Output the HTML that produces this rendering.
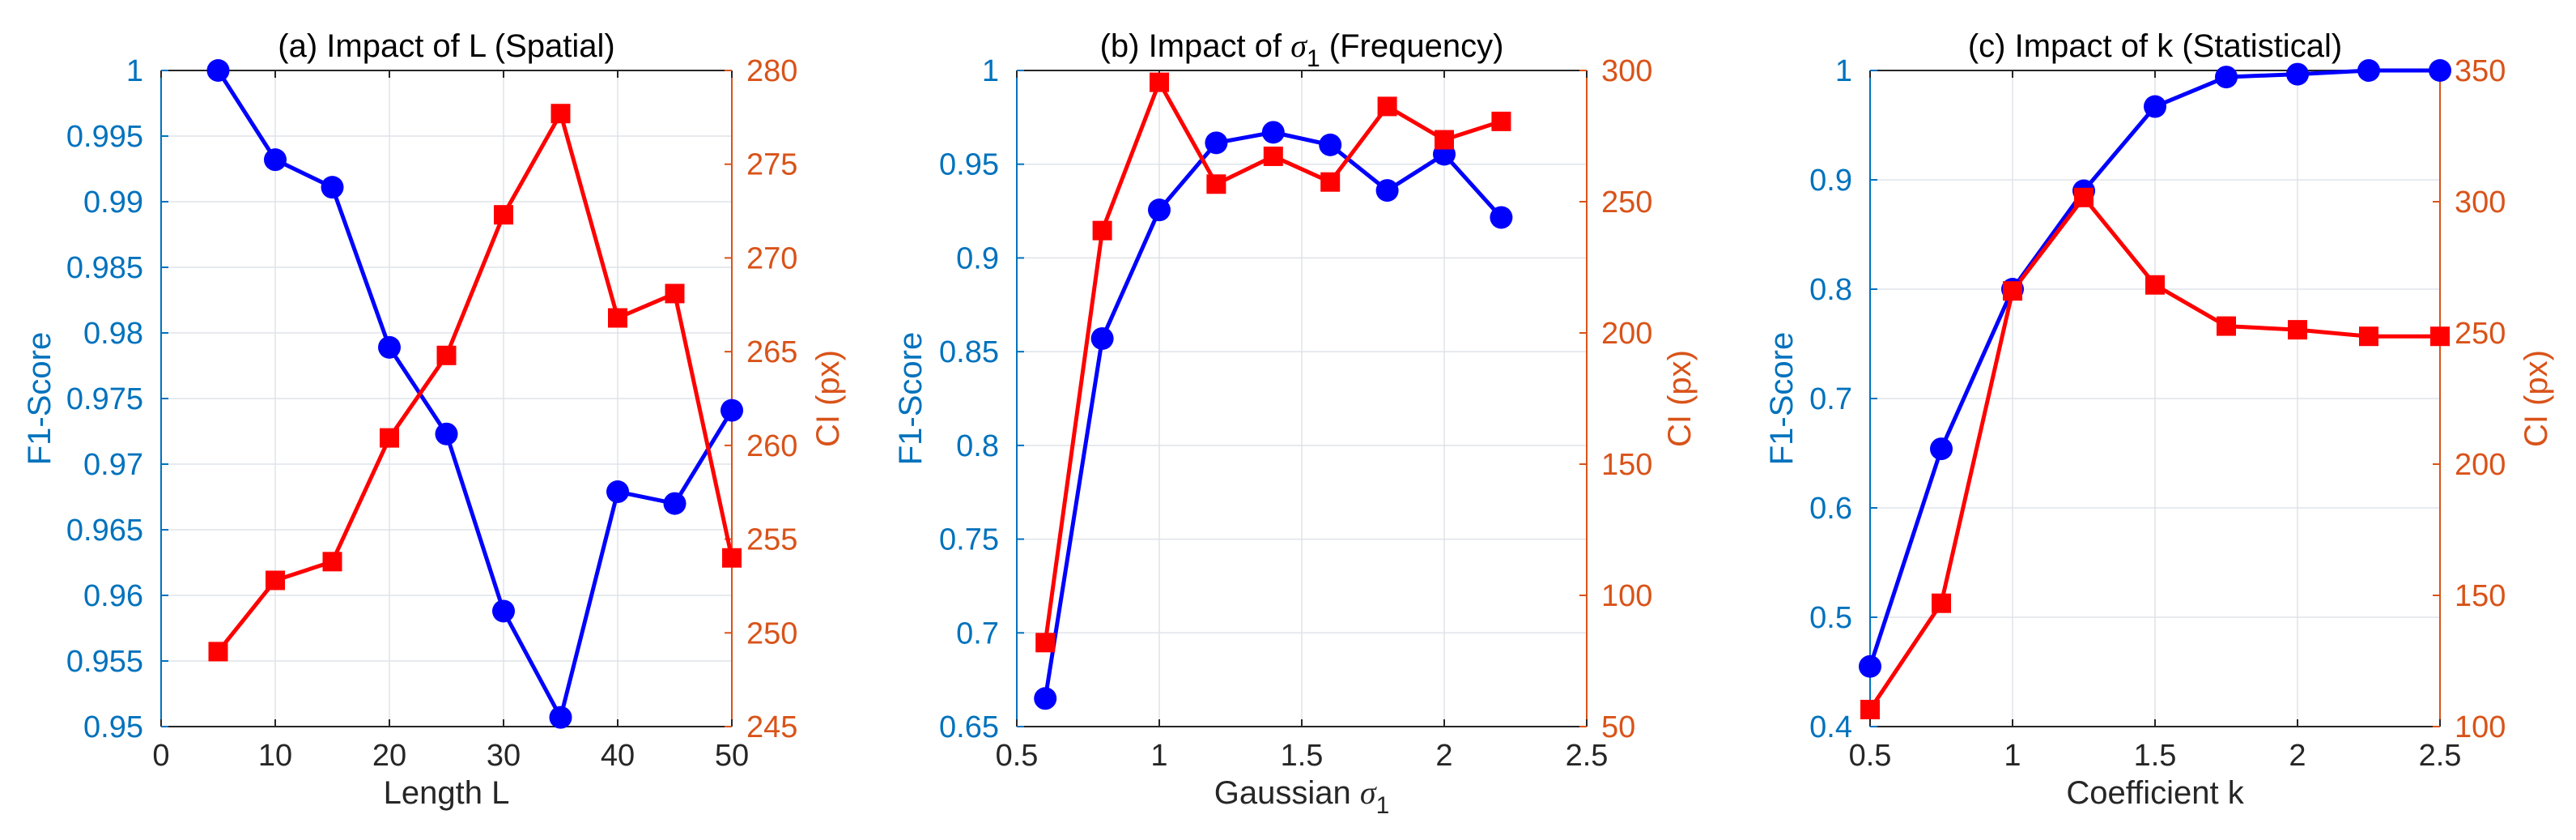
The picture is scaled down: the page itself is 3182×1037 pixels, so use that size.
<!DOCTYPE html>
<html><head><meta charset="utf-8"><style>
html,body{margin:0;padding:0;background:#fff}
svg{display:block}
text{font-family:"Liberation Sans",sans-serif}
</style></head><body>
<svg id="fig" width="3182" height="1037" viewBox="0 0 3182 1037" xmlns="http://www.w3.org/2000/svg"></svg>
<script>
// Panel (a)
const aX = [5,10,15,20,25,30,35,40,45,50];
const aF1 = [1,0.9932,0.9911,0.9789,0.9723,0.9588,0.9507,0.9679,0.9670,0.9741];
const aCI = [249,252.8,253.8,260.4,264.8,272.3,277.7,266.8,268.1,254];
const aXTicks = [0,10,20,30,40,50];
const aLTicks = [0.95,0.955,0.96,0.965,0.97,0.975,0.98,0.985,0.99,0.995,1];
const aLLabels = ["0.95","0.955","0.96","0.965","0.97","0.975","0.98","0.985","0.99","0.995","1"];
const aRTicks = [245,250,255,260,265,270,275,280];
// Panel (b)
const bX = [0.6,0.8,1.0,1.2,1.4,1.6,1.8,2.0,2.2];
const bF1 = [0.665,0.857,0.9256,0.9614,0.967,0.9603,0.936,0.9553,0.9216];
const bCI = [82,239,295.5,256.7,267.3,257.5,286.3,273.6,280.6];
const bXTicks = [0.5,1,1.5,2,2.5];
const bLTicks = [0.65,0.7,0.75,0.8,0.85,0.9,0.95,1];
const bLLabels = ["0.65","0.7","0.75","0.8","0.85","0.9","0.95","1"];
const bRTicks = [50,100,150,200,250,300];
// Panel (c)
const cX = [0.5,0.75,1.0,1.25,1.5,1.75,2.0,2.25,2.5];
const cF1 = [0.455,0.654,0.800,0.890,0.967,0.994,0.9966,1.0,1.0];
const cCI = [106.5,147,266,301.6,268.3,252.6,251.2,248.7,248.7];
const cXTicks = [0.5,1,1.5,2,2.5];
const cLTicks = [0.4,0.5,0.6,0.7,0.8,0.9,1];
const cLLabels = ["0.4","0.5","0.6","0.7","0.8","0.9","1"];
const cRTicks = [100,150,200,250,300,350];

const NS = "http://www.w3.org/2000/svg";
const svg = document.getElementById('fig');
const LBLUE = "#0072BD", RORG = "#D95319";
function mk(tag, attrs, parent){
  const e = document.createElementNS(NS, tag);
  for (const k in attrs) e.setAttribute(k, attrs[k]);
  (parent||svg).appendChild(e);
  return e;
}
function fmt(v){ return String(+v.toFixed(3)); }

function panel(o){
  const g = mk('g', {});
  
  
  const L=o.left, R=o.right, T=87, B=897;
  const sx = v => L + (v-o.xmin)/(o.xmax-o.xmin)*(R-L);
  const sl = v => B - (v-o.lmin)/(o.lmax-o.lmin)*(B-T);
  const sr = v => B - (v-o.rmin)/(o.rmax-o.rmin)*(B-T);
  // grid
  o.xt.forEach(v=>{ const x=sx(v); const l=mk('line',{x1:x,x2:x,y1:T,y2:B,stroke:"#dfe3e8","stroke-width":1.5},g);
      });
  o.lt.forEach(v=>{ const y=sl(v); const l=mk('line',{x1:L,x2:R,y1:y,y2:y,stroke:"#dfe3e8","stroke-width":1.5},g);
      });
  // axes
  const ax = mk('line',{x1:L,x2:R,y1:T,y2:T,stroke:"#262626","stroke-width":2},g);
   
  const bx = mk('line',{x1:L,x2:R,y1:B,y2:B,stroke:"#262626","stroke-width":2},g);
   
  const lx = mk('line',{x1:L,x2:L,y1:T,y2:B,stroke:LBLUE,"stroke-width":2},g);
   
  const rx = mk('line',{x1:R,x2:R,y1:T,y2:B,stroke:RORG,"stroke-width":2},g);
   
  // x ticks
  o.xt.forEach(v=>{ const x=sx(v);
    mk('line',{x1:x,x2:x,y1:B,y2:B-9,stroke:"#262626","stroke-width":2},g);
    mk('line',{x1:x,x2:x,y1:T,y2:T+9,stroke:"#262626","stroke-width":2},g);
    const t=mk('text',{x:x,y:945,"text-anchor":"middle","font-size":38,fill:"#262626"},g);
    t.textContent=fmt(v);
      });
  o.lt.forEach((v,i)=>{ const y=sl(v);
    mk('line',{x1:L,x2:L+9,y1:y,y2:y,stroke:LBLUE,"stroke-width":2},g);
    const t=mk('text',{x:L-22,y:y+13,"text-anchor":"end","font-size":38,fill:LBLUE},g);
    t.textContent=o.ll[i];
      });
  o.rt.forEach(v=>{ const y=sr(v);
    mk('line',{x1:R,x2:R-9,y1:y,y2:y,stroke:RORG,"stroke-width":2},g);
    const t=mk('text',{x:R+18,y:y+13,"text-anchor":"start","font-size":38,fill:RORG},g);
    t.textContent=fmt(v);
      });
  // title
  const ti=mk('text',{x:(L+R)/2,y:70,"text-anchor":"middle","font-size":40,fill:"#000"},g);
  ti.innerHTML=o.title;
   
  const xl=mk('text',{x:(L+R)/2,y:992,"text-anchor":"middle","font-size":40,fill:"#262626"},g);
  xl.innerHTML=o.xlabel;
   
  const yl=mk('text',{x:0,y:0,"text-anchor":"middle","font-size":40,fill:LBLUE,transform:`translate(${o.ylx},492) rotate(-90)`},g);
  yl.textContent="F1-Score";
   
  const yr=mk('text',{x:0,y:0,"text-anchor":"middle","font-size":40,fill:RORG,transform:`translate(${o.yrx},492) rotate(-90)`},g);
  yr.textContent="CI (px)";
   
  // series
  const fl=mk('polyline',{points:o.x.map((v,i)=>sx(v)+","+sl(o.f1[i])).join(" "),fill:"none",stroke:"#0000ff","stroke-width":5,"stroke-linejoin":"round"},g);
   
  const cl=mk('polyline',{points:o.x.map((v,i)=>sx(v)+","+sr(o.ci[i])).join(" "),fill:"none",stroke:"#ff0000","stroke-width":5,"stroke-linejoin":"round"},g);
   
  o.x.forEach((v,i)=>{
    const c=mk('circle',{cx:sx(v),cy:sl(o.f1[i]),r:14,fill:"#0000ff"},g);
     
  });
  o.x.forEach((v,i)=>{
    const s=mk('rect',{x:sx(v)-12,y:sr(o.ci[i])-12,width:24,height:24,fill:"#ff0000"},g);
     
  });
  if (o.order==='ciBelow'){ /* keep default */ }
}
const sig = '<tspan font-family="Liberation Serif" font-style="italic">σ</tspan><tspan dy="12" font-size="30">1</tspan><tspan dy="-12"> </tspan>';
panel({id:'panel-a',left:199,right:904,xmin:0,xmax:50,lmin:0.95,lmax:1,rmin:245,rmax:280,
  x:aX,f1:aF1,ci:aCI,xt:aXTicks,lt:aLTicks,ll:aLLabels,rt:aRTicks,
  title:'(a) Impact of L (Spatial)',xlabel:'Length L',ylx:62,yrx:1036});
panel({id:'panel-b',left:1256,right:1960,xmin:0.5,xmax:2.5,lmin:0.65,lmax:1,rmin:50,rmax:300,
  x:bX,f1:bF1,ci:bCI,xt:bXTicks,lt:bLTicks,ll:bLLabels,rt:bRTicks,
  title:'(b) Impact of '+sig+'(Frequency)',xlabel:'Gaussian '+sig,ylx:1138,yrx:2088});
panel({id:'panel-c',left:2310,right:3014,xmin:0.5,xmax:2.5,lmin:0.4,lmax:1,rmin:100,rmax:350,
  x:cX,f1:cF1,ci:cCI,xt:cXTicks,lt:cLTicks,ll:cLLabels,rt:cRTicks,
  title:'(c) Impact of k (Statistical)',xlabel:'Coefficient k',ylx:2214,yrx:3146});
</script>
</body></html>
